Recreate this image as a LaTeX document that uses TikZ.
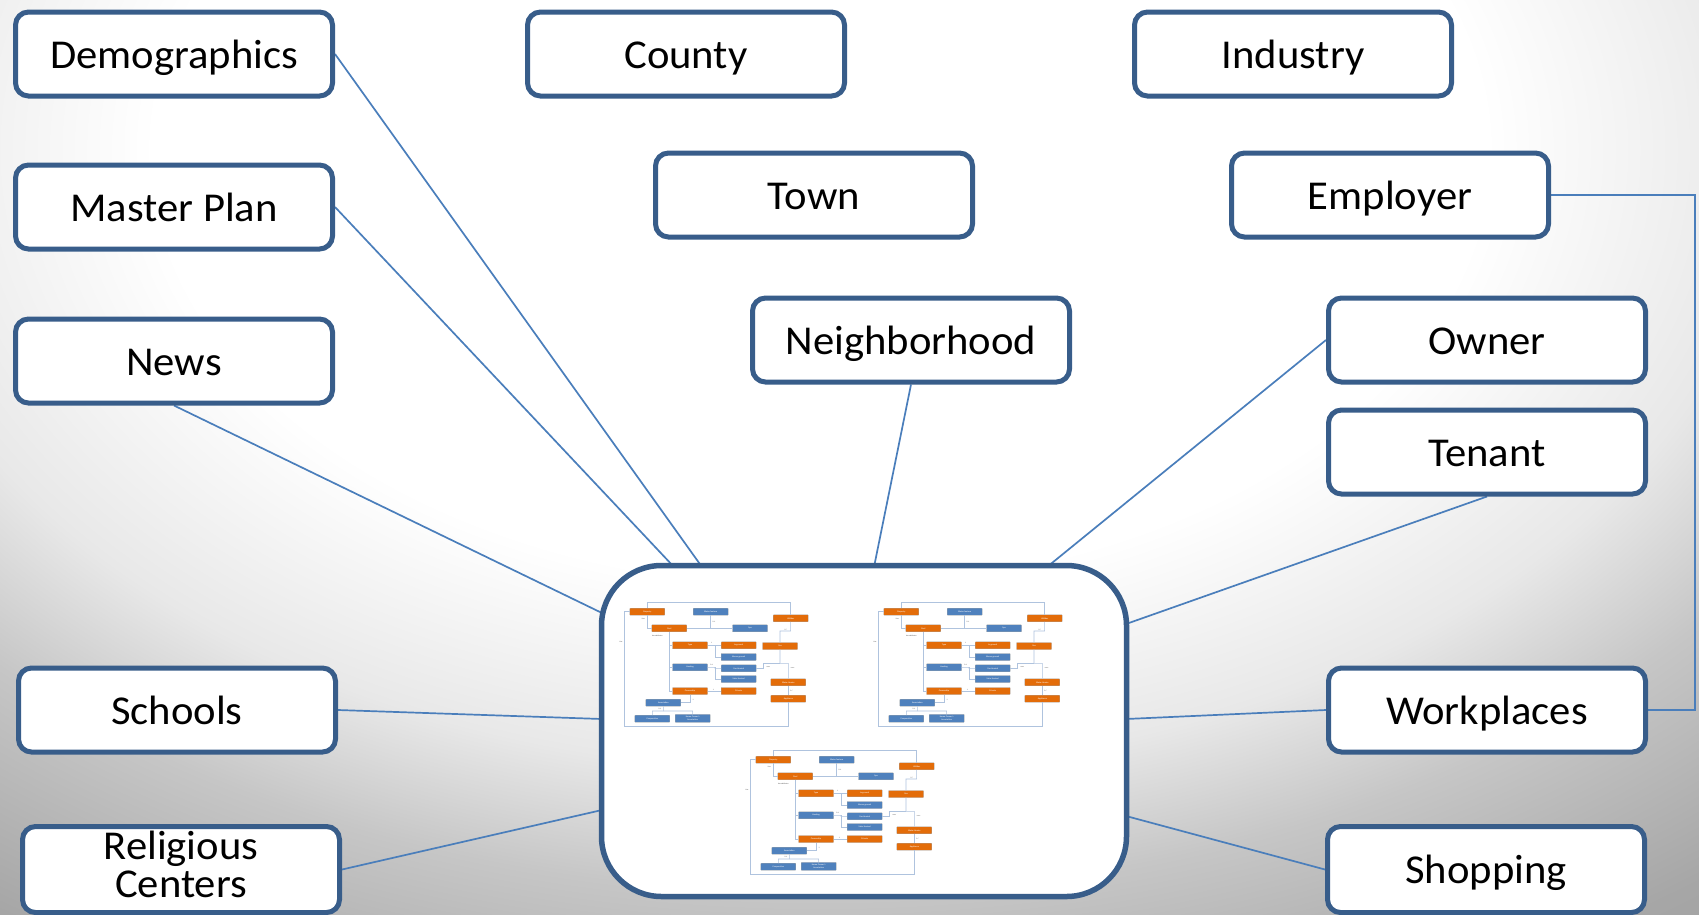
\documentclass[tikz,border=0pt]{standalone}
\usepackage{fontspec}
\setmainfont{Carlito}[FakeStretch=1.04]
\usetikzlibrary{calc}
\pgfdeclarelayer{bglayer}
\pgfdeclarelayer{linelayer}
\pgfsetlayers{bglayer,linelayer,main}
\definecolor{boxblue}{RGB}{56,93,138}
\definecolor{lineblue}{RGB}{74,126,187}
\definecolor{mOrange}{RGB}{227,108,9}
\definecolor{mBlue}{RGB}{79,129,189}
\definecolor{mLine}{RGB}{175,195,222}
\definecolor{bgA}{RGB}{232,232,232}
\definecolor{bgB}{RGB}{215,215,215}
\definecolor{bgC}{RGB}{198,198,198}
\definecolor{bgD}{RGB}{166,166,166}
\definecolor{bgE}{RGB}{150,150,150}
\pgfdeclareradialshading{bgshade}{\pgfpoint{0bp}{0bp}}{color(0bp)=(white); color(8.75bp)=(white); color(12.5bp)=(bgA); color(13.75bp)=(bgB); color(15bp)=(bgC); color(18.75bp)=(bgD); color(25bp)=(bgE); color(50bp)=(bgE)}
\tikzset{
  topic/.style={draw=boxblue, line width=5pt, fill=white, rounded corners=13pt,
    minimum width=317pt, minimum height=84pt, inner sep=0pt, align=center,
    font=\fontsize{41}{37}\selectfont},
  topicone/.style={topic, text height=30pt, text depth=2pt},
  conn/.style={draw=lineblue, line width=1.7pt},
  mbox/.style={minimum width=35pt, minimum height=7pt, inner sep=0pt, align=center,
    font=\fontsize{2.2}{2.4}\selectfont, text=white, draw=black!35, line width=0.3pt,
    rounded corners=0.5pt},
  mor/.style={mbox, fill=mOrange},
  mbl/.style={mbox, fill=mBlue},
  mln/.style={draw=mLine, line width=0.6pt},
  mlab/.style={font=\fontsize{1.8}{2}\selectfont, text=black!70, inner sep=0pt},
  erd/.pic={
    \begin{scope}[scale=1/3]
      \node[mor] (-prop) at (82,50) {Property};
      \node[mbl] (-wf) at (272,50) {Water feature};
      \node[mor] (-util) at (512,70) {Utilities};
      \node[mor] (-pool) at (148,100) {Pool};
      \node[mbl] (-spa) at (390,100) {Spa};
      \node[mor] (-type) at (210,151) {Type};
      \node[mor] (-ing) at (356,151) {In ground};
      \node[mor] (-gas) at (480,153) {Gas};
      \node[mbl] (-abg) at (356,186) {Above ground};
      \node[mbl] (-heat) at (210,217) {Heating};
      \node[mbl] (-gh) at (356,220) {Gas Heated};
      \node[mbl] (-sh) at (356,252) {Solar Heated};
      \node[mor] (-wh) at (505,262) {Water Heater};
      \node[mor] (-own) at (210,288) {Ownership};
      \node[mor] (-priv) at (356,288) {Private};
      \node[mor] (-appl) at (505,311) {Appliance};
      \node[mbl] (-assoc) at (130,323) {Association};
      \node[mbl] (-coop) at (97,371) {Cooperative};
      \node[mbl, minimum height=8pt] (-hoa) at (218,370) {Home Owner's\\Association};
      \draw[mln] (-prop.west) -| (12,393) -| (-appl.south);
      \draw[mln] (-prop.north) -- ++(0,-18) -| (-util.north);
      \draw[mln] (-prop.south) |- (-pool.west);
      \draw[mln] (-pool.east) -- (-spa.west);
      \draw[mln] (-wf.south) -- (-wf.south |- -pool.east);
      \draw[mln] (-pool.south) |- (-type.west);
      \draw[mln] (-pool.south) |- (-heat.west);
      \draw[mln] (-pool.south) |- (-own.west);
      \draw[mln] (-type.east) -- (-ing.west);
      \draw[mln] (285,151) |- (-abg.west);
      \draw[mln] (-heat.east) -- (285,217) |- (-gh.west);
      \draw[mln] (285,217) |- (-sh.west);
      \draw[mln] (-own.east) -- (-priv.west);
      \draw[mln] (-own.south) |- (-assoc.east);
      \draw[mln] (-assoc.south) -- (130,348);
      \draw[mln] (-coop.north) -- (97,348) -- (218,348) -- (-hoa.north);
      \draw[mln] (-util.south) -- (512,108) -| (-gas.north);
      \draw[mln] (-gas.south) -- (480,205) -| (-wh.north);
      \draw[mln] (480,205) -- (430,205) |- (-gh.east);
      \draw[mln] (-wh.south) -- (-appl.north);
      \node[mlab] at (3,142) {Has};
      \node[mlab] at (70,72) {Has};
      \node[mlab] at (282,82) {0..1};
      \node[mlab] at (112,122) {Has attributes};
      \node[mlab] at (275,145) {1};
      \node[mlab] at (275,210) {0..1};
      \node[mlab] at (280,284) {1};
      \node[mlab] at (219,316) {1};
      \node[mlab] at (120,342) {0..1};
      \node[mlab] at (498,104) {0..*};
      \node[mlab] at (445,215) {uses};
      \node[mlab] at (518,218) {uses};
      \node[mlab] at (515,288) {0..*};
    \end{scope}
  }
}
\begin{document}
\begin{tikzpicture}[x=1pt, y=-1pt]
\useasboundingbox (0,0) rectangle (1699,914);
\begin{pgfonlayer}{bglayer}
\begin{scope}
  \clip (0,0) rectangle (1699,914);
  \shade[shading=bgshade] (820,150) ellipse [x radius=1900pt, y radius=1240pt];
\end{scope}
\end{pgfonlayer}

% topic boxes
\node[topicone] (demo) at (174,54) {Demographics};
\node[topicone] (master) at (174,207) {Master Plan};
\node[topicone] (news) at (174,361) {News};
\node[topicone] (schools) at (177,710) {Schools};
\node[topic, minimum height=86pt] (relig) at (181,869.5)
  {\raisebox{5pt}{\begin{tabular}{@{}c@{}}Religious\\Centers\end{tabular}}};
\node[topicone] (county) at (686,54) {County};
\node[topicone] (town) at (814,195) {Town};
\node[topicone] (neigh) at (911,340) {Neighborhood};
\node[topicone] (industry) at (1293,54) {Industry};
\node[topicone] (employer) at (1390,195) {Employer};
\node[topicone] (owner) at (1487,340) {Owner};
\node[topicone] (tenant) at (1487,452) {Tenant};
\node[topicone] (work) at (1487,710) {Workplaces};
\node[topicone, minimum height=86pt] (shop) at (1486,869.5) {Shopping};

% central box
\node[draw=boxblue, line width=5.5pt, fill=white, rounded corners=60pt,
  minimum width=525pt, minimum height=331pt, inner sep=0pt] (central) at (864,731) {};
\pic (d1) at (620,595) {erd};
\pic (d2) at (874,595) {erd};
\pic (d3) at (746,743) {erd};

% anchor points on the central box
\coordinate (cDemo) at (702,567);
\coordinate (cMaster) at (674,567);
\coordinate (cNews) at (602,613);
\coordinate (cSchools) at (602,719);
\coordinate (cRelig) at (602,810);
\coordinate (cNeigh) at (874,567);
\coordinate (cOwner) at (1047,567);
\coordinate (cTenant) at (1126,624);
\coordinate (cWork) at (1126,719);
\coordinate (cShop) at (1126,816);
\coordinate (loop) at (1695,0);

% connectors, under the boxes
\begin{pgfonlayer}{linelayer}
\draw[conn] (demo.east) -- (cDemo);
\draw[conn] (master.east) -- (cMaster);
\draw[conn] (news.south) -- (cNews);
\draw[conn] (schools.east) -- (cSchools);
\draw[conn] (relig.east) -- (cRelig);
\draw[conn] (neigh.south) -- (cNeigh);
\draw[conn] (owner.west) -- (cOwner);
\draw[conn] (tenant.south) -- (cTenant);
\draw[conn] (work.west) -- (cWork);
\draw[conn] (shop.west) -- (cShop);
\draw[conn] (employer.east) -- (employer.east -| loop) |- (work.east);
\end{pgfonlayer}
\end{tikzpicture}
\end{document}
